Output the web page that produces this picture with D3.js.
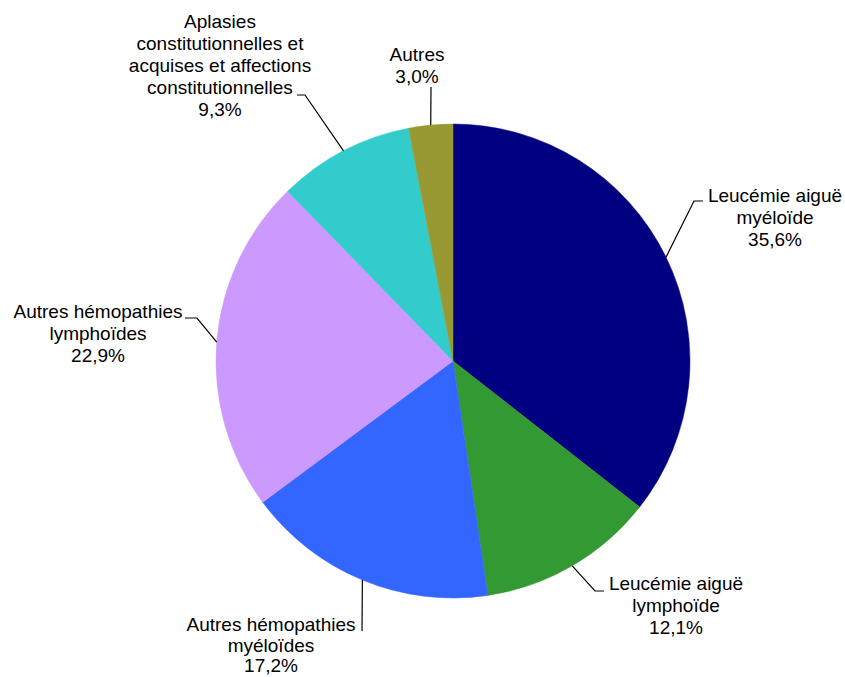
<!DOCTYPE html>
<html>
<head>
<meta charset="utf-8">
<script src="https://cdn.jsdelivr.net/npm/d3@7"></script>
<style>
  html, body { margin: 0; padding: 0; background: #fff; }
  svg text { font-family: "Liberation Sans", Arial, sans-serif; font-size: 19px; fill: #000; }
</style>
</head>
<body>
<svg id="chart" width="845" height="677"></svg>
<script>
// categories and shares (%)
const categories = [
  'Leucémie aiguë myéloïde',
  'Leucémie aiguë lymphoïde',
  'Autres hémopathies myéloïdes',
  'Autres hémopathies lymphoïdes',
  'Aplasies constitutionnelles et acquises et affections constitutionnelles',
  'Autres'
];
const values = [35.6, 12.1, 17.2, 22.9, 9.3, 3.0];
const labelLines = [
  ['Leucémie aiguë', 'myéloïde'],
  ['Leucémie aiguë', 'lymphoïde'],
  ['Autres hémopathies', 'myéloïdes'],
  ['Autres hémopathies', 'lymphoïdes'],
  ['Aplasies', 'constitutionnelles et', 'acquises et affections', 'constitutionnelles'],
  ['Autres']
];
const colors = ['#000080', '#339933', '#3366FF', '#CC99FF', '#33CCCC', '#999933'];

// label placement (elbow, end of leader, text centre, first baseline, line step)
const labelLayout = [
  { elbow: [694, 201], end: [703, 201], tx: 775, ty: 202, lh: 22 },
  { elbow: [595, 591], end: [604, 591], tx: 676, ty: 590, lh: 22 },
  { elbow: [362, 631], end: [362, 631], tx: 271, ty: 631, lh: 20.5 },
  { elbow: [197, 318], end: [185, 318], tx: 98, ty: 318, lh: 22 },
  { elbow: [305, 95], end: [297, 95], tx: 220, ty: 28, lh: 22 },
  { elbow: [431, 87], end: [431, 87], tx: 417, ty: 61, lh: 22 }
];

const svg = d3.select('svg#chart');
const cx = 453,
  cy = 361,
  radius = 237;

const fr = d3.formatLocale({ decimal: ',', thousands: ' ', grouping: [3], currency: ['', ' €'] });
const fmt = fr.format('.1f');

const pie = d3.pie().sort(null).value(d => d)(values);
const arc = d3.arc().innerRadius(0).outerRadius(radius);

const g = svg.append('g').attr('transform', `translate(${cx},${cy})`);

g.selectAll('path.slice')
  .data(pie)
  .enter()
  .append('path')
  .attr('class', 'slice')
  .attr('d', arc)
  .attr('fill', (d, i) => colors[i])
  .attr('stroke', (d, i) => colors[i])
  .attr('stroke-width', 0.5);

// leader lines + labels
pie.forEach(function(d, i) {
  const mid = (d.startAngle + d.endAngle) / 2;
  const p = d3.pointRadial(mid, radius);
  const lay = labelLayout[i];
  const pts = [
    [cx + p[0], cy + p[1]],
    lay.elbow,
    lay.end
  ];
  svg.append('path')
    .attr('d', d3.line()(pts))
    .attr('fill', 'none')
    .attr('stroke', '#000')
    .attr('stroke-width', 1.2);

  const lines = labelLines[i].concat([fmt(values[i]) + '%']);
  const t = svg.append('text')
    .attr('text-anchor', 'middle')
    .attr('x', lay.tx)
    .attr('y', lay.ty);
  lines.forEach(function(line, k) {
    t.append('tspan')
      .attr('x', lay.tx)
      .attr('y', lay.ty + k * lay.lh)
      .text(line);
  });
});
</script>
</body>
</html>
